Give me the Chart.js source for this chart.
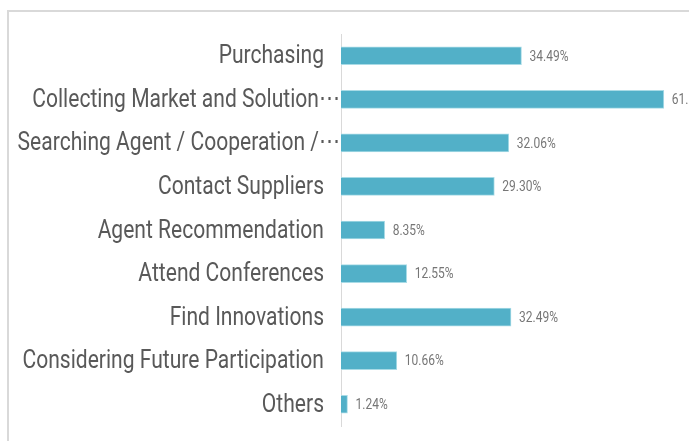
<!DOCTYPE html>
<html>
<head>
<meta charset="utf-8">
<script src="https://cdn.jsdelivr.net/npm/chart.js@4"></script>
<style>
  body { margin: 0; background: #fff; }
</style>
</head>
<body>
<canvas id="purposeChart" width="689" height="441"></canvas>
<script>
const categories = [
    'Purchasing',
    'Collecting Market and Solution\u22EF',
    'Searching Agent / Cooperation /\u22EF',
    'Contact Suppliers',
    'Agent Recommendation',
    'Attend Conferences',
    'Find Innovations',
    'Considering Future Participation',
    'Others'
];
const shares = [34.49, 61.69, 32.06, 29.30, 8.35, 12.55, 32.49, 10.66, 1.24];
const axisMax = 66.5;

// the original uses a condensed face; squeeze Roboto horizontally instead
const squeeze = 0.81;

// grey frame along top and left edge
const framePlugin = {
    id: 'frame',
    beforeDraw(chart) {
        const c = chart.ctx;
        c.save();
        c.fillStyle = '#d9d9d9';
        c.fillRect(7, 10, 682, 2);
        c.fillRect(7, 10, 2, 431);
        c.restore();
    }
};

// category names, drawn condensed at the y scale's tick positions
// truncated names run their ellipsis up to the axis, like the original
const categoryLabels = {
    id: 'categoryLabels',
    afterDraw(chart) {
        const c = chart.ctx;
        const yScale = chart.scales.y;
        const left = chart.chartArea.left;
        c.save();
        c.font = '26px Roboto, sans-serif';
        c.fillStyle = '#595959';
        c.textAlign = 'right';
        c.textBaseline = 'middle';
        yScale.ticks.forEach((t, i) => {
            const name = categories[i];
            const right = name.endsWith('\u22EF') ? left - 1 : left - 17;
            c.save();
            c.translate(right, yScale.getPixelForTick(i) + 1);
            c.scale(squeeze, 1);
            c.fillText(name, 0, 0);
            c.restore();
        });
        c.restore();
    }
};

// percentage text next to each bar
const valueLabels = {
    id: 'valueLabels',
    afterDatasetsDraw(chart) {
        const c = chart.ctx;
        const meta = chart.getDatasetMeta(0);
        c.save();
        c.font = '15px Roboto, sans-serif';
        c.fillStyle = '#767676';
        c.textBaseline = 'middle';
        meta.data.forEach((bar, i) => {
            c.save();
            c.translate(bar.x + 8, bar.y + 1);
            c.scale(0.8, 1);
            c.fillText(shares[i].toFixed(2) + '%', 0, 0);
            c.restore();
        });
        c.restore();
    }
};

const ctx = document.getElementById('purposeChart').getContext('2d');
new Chart(ctx, {
    type: 'bar',
    data: {
        labels: categories,
        datasets: [{
            data: shares,
            backgroundColor: '#52b0c8',
            borderColor: '#a9dbe6',
            borderWidth: 1,
            barThickness: 18
        }]
    },
    options: {
        indexAxis: 'y',
        responsive: false,
        animation: false,
        layout: { padding: { top: 34, bottom: 15, left: 0, right: 0 } },
        plugins: {
            legend: { display: false },
            tooltip: { enabled: false }
        },
        scales: {
            x: {
                display: false,
                min: 0,
                max: axisMax
            },
            y: {
                grid: { display: false, drawTicks: false },
                border: { display: true, color: '#d9d9d9', width: 1 },
                ticks: { display: false },
                afterFit(scale) { scale.width = 341; }
            }
        }
    },
    plugins: [framePlugin, categoryLabels, valueLabels]
});
</script>
</body>
</html>
